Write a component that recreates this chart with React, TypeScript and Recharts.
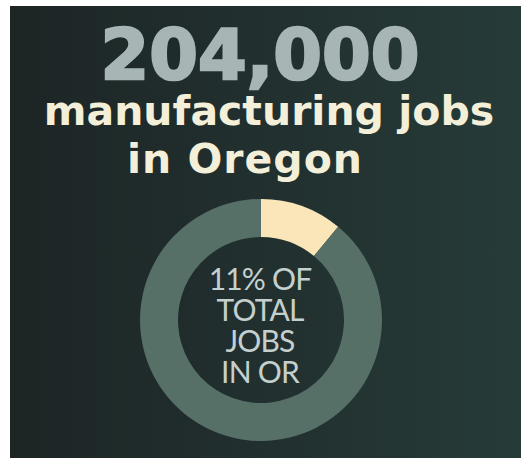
import { PieChart, Pie, Cell } from 'recharts'

const shares = [
  { name: 'Manufacturing', value: 11 },
  { name: 'Other jobs', value: 89 },
]
const sliceColors = ['#fbe6ba', '#566f67']
const headline = '204,000'
const subtitleLines = ['manufacturing jobs', 'in Oregon']
const centerLines = ['11% OF', 'TOTAL', 'JOBS', 'IN OR']

const W = 511
const H = 452

export default function App() {
  return (
    <div
      style={{
        position: 'absolute',
        left: 10,
        top: 6,
        width: W,
        height: H,
        background: 'linear-gradient(to right, #1d2525 0%, #223130 55%, #263b38 100%)',
      }}
    >
      <PieChart width={W} height={H} margin={{ top: 0, right: 0, bottom: 0, left: 0 }}>
        <text
          x={250}
          y={73}
          textAnchor="middle"
          fill="#a7b5b4"
          stroke="#a7b5b4"
          strokeWidth={2.5}
          fontFamily="DejaVu Sans"
          fontWeight={700}
          fontSize={70}
        >
          {headline}
        </text>
        <text
          textAnchor="middle"
          fill="#f3efd8"
          fontFamily="DejaVu Sans"
          fontWeight={700}
          fontSize={41}
        >
          <tspan x={259} y={119}>
            {subtitleLines[0]}
          </tspan>
          <tspan x={235} y={167} letterSpacing={1}>
            {subtitleLines[1]}
          </tspan>
        </text>
        <Pie
          data={shares}
          dataKey="value"
          nameKey="name"
          cx={251}
          cy={314}
          innerRadius={83}
          outerRadius={121}
          startAngle={90}
          endAngle={-270}
          stroke="none"
          isAnimationActive={false}
        >
          {shares.map((s, i) => (
            <Cell key={s.name} fill={sliceColors[i]} />
          ))}
        </Pie>
        <text
          textAnchor="middle"
          fill="#c4d0ce"
          fontFamily="Lato"
          fontSize={30}
          letterSpacing={-0.8}
        >
          {centerLines.map((line, i) => (
            <tspan key={line} x={250} y={284 + i * 31}>
              {line}
            </tspan>
          ))}
        </text>
      </PieChart>
    </div>
  )
}
